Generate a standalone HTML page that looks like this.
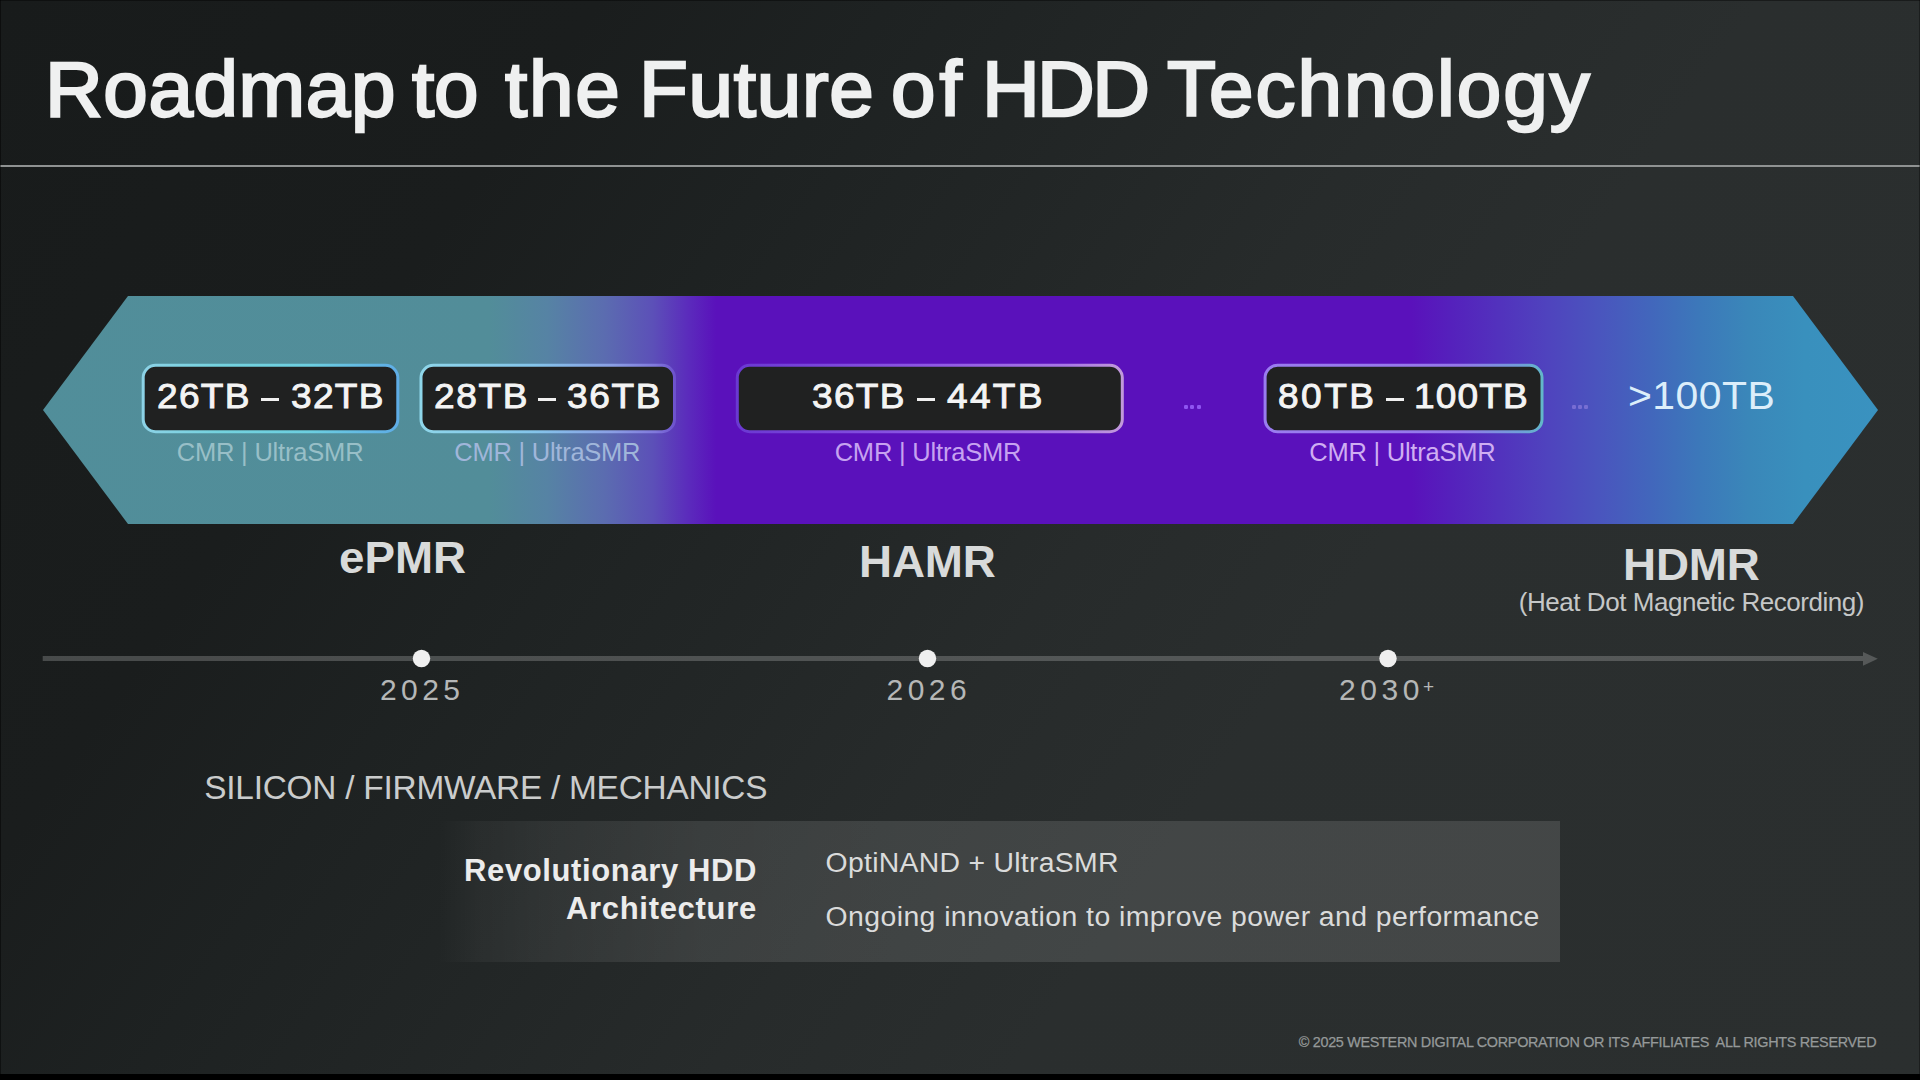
<!DOCTYPE html>
<html>
<head>
<meta charset="utf-8">
<title>Roadmap to the Future of HDD Technology</title>
<style>
  html, body { margin: 0; padding: 0; }
  body {
    width: 1920px; height: 1080px; overflow: hidden; position: relative;
    font-family: "Liberation Sans", sans-serif;
    background: linear-gradient(125deg, #181b1b 0px, #1a1d1d 491px, #1e2222 730px, #222626 951px, #272b2b 1197px, #2a2e2e 1443px, #2b2f2f 2192px);
    color: #efefef;
  }
  .t { position: absolute; white-space: nowrap; line-height: 1; margin: 0; }
  #title { position:absolute; left:0; top:0; }
  .tw { top: 49.6px; font-size: 78px; color: #eff0f0; -webkit-text-stroke: 2.4px #eff0f0; transform: scaleX(1.025); transform-origin: 0 0; }
  #rule { position: absolute; left: 0; top: 165px; width: 1920px; height: 2px; background: #8f9292; }
  #bottombar { position: absolute; left: 0; top: 1074px; width: 1920px; height: 6px; background: #000; }
  #band { position: absolute; left: 0; top: 0; }
  .bt { top: 378px; font-size: 35px; color: #f4f4f4; -webkit-text-stroke: 0.9px #f4f4f4; transform: scaleX(1.06); transform-origin: 0 0; }
  .dash { position:absolute; top:397.8px; height:3.5px; background:#f0f0f0; }
  .dots { position:absolute; height:4px; width:20px; }
  .dots i { position:absolute; top:0; width:4px; height:4px; border-radius:1.2px; background:#9d66ff; }
  .dots i:nth-child(1){left:0} .dots i:nth-child(2){left:6.2px} .dots i:nth-child(3){left:12.4px}
  .sub { font-size: 25.5px; top: 440.4px; }
  .lab { font-size: 44px; font-weight: bold; color: #d8dada; transform: scaleX(1.04); transform-origin: 0 0; }
  .yr { font-size: 30px; color: #b5b7b7; }
</style>
</head>
<body>

<div id="title"><span class="t tw" id="tw0" style="left:44.59px;letter-spacing:0.6px;">Roadmap</span><span class="t tw" id="tw1" style="left:411.96px;letter-spacing:-0.12px;">to</span><span class="t tw" id="tw2" style="left:504.96px;letter-spacing:1.75px;">the</span><span class="t tw" id="tw3" style="left:638.57px;letter-spacing:0.73px;">Future</span><span class="t tw" id="tw4" style="left:891px;letter-spacing:4px;">of</span><span class="t tw" id="tw5" style="left:982.41px;letter-spacing:-2.57px;">HDD</span><span class="t tw" id="tw6" style="left:1167.17px;letter-spacing:1.99px;">Technology</span></div>
<div id="rule"></div>

<svg id="band" width="1920" height="1080" viewBox="0 0 1920 1080">
  <defs>
    <linearGradient id="g" gradientUnits="userSpaceOnUse" x1="0" y1="0" x2="1920" y2="0">
      <stop offset="0" stop-color="#518e9a"/>
      <stop offset="0.255" stop-color="#528d99"/>
      <stop offset="0.285" stop-color="#5683a4"/>
      <stop offset="0.315" stop-color="#5b6cb0"/>
      <stop offset="0.34" stop-color="#5c50b8"/>
      <stop offset="0.358" stop-color="#5b2cbc"/>
      <stop offset="0.373" stop-color="#5a11bb"/>
      <stop offset="0.735" stop-color="#5a11bb"/>
      <stop offset="0.755" stop-color="#5520bc"/>
      <stop offset="0.781" stop-color="#5232bd"/>
      <stop offset="0.807" stop-color="#4f44be"/>
      <stop offset="0.833" stop-color="#4a55be"/>
      <stop offset="0.859" stop-color="#4266bc"/>
      <stop offset="0.885" stop-color="#3c78ba"/>
      <stop offset="0.911" stop-color="#3a87b9"/>
      <stop offset="0.94" stop-color="#3990bd"/>
      <stop offset="1" stop-color="#3a93c1"/>
    </linearGradient>
    <linearGradient id="b1g" gradientUnits="userSpaceOnUse" x1="141.7" y1="0" x2="399.3" y2="0"><stop offset="0" stop-color="#8cd2e6"/><stop offset="0.3" stop-color="#74d2de"/><stop offset="0.65" stop-color="#6ccfe0"/><stop offset="1" stop-color="#5eace6"/></linearGradient>
    <linearGradient id="b2g" gradientUnits="userSpaceOnUse" x1="419.5" y1="0" x2="676.0" y2="0"><stop offset="0" stop-color="#8ed6ea"/><stop offset="0.45" stop-color="#84c4ea"/><stop offset="0.75" stop-color="#8a9fe4"/><stop offset="0.92" stop-color="#8078dc"/><stop offset="1" stop-color="#6c50cc"/></linearGradient>
    <linearGradient id="b3g" gradientUnits="userSpaceOnUse" x1="735.8" y1="0" x2="1123.8" y2="0"><stop offset="0" stop-color="#6a38d2"/><stop offset="0.5" stop-color="#8e58e4"/><stop offset="0.85" stop-color="#a878e6"/><stop offset="1" stop-color="#c29ada"/></linearGradient>
    <linearGradient id="b4g" gradientUnits="userSpaceOnUse" x1="1263.6" y1="0" x2="1543.5" y2="0"><stop offset="0" stop-color="#9a7cf0"/><stop offset="0.7" stop-color="#9478ea"/><stop offset="0.92" stop-color="#6f9fd8"/><stop offset="1" stop-color="#62b8c8"/></linearGradient>
  </defs>
  <polygon points="43,410 128,296 1793,296 1878,410 1793,524 128,524" fill="url(#g)"/>
  <rect x="143.20" y="365.30" width="254.60" height="66.40" rx="12.5" fill="#202121" stroke="url(#b1g)" stroke-width="3.0"/>
  <rect x="421.00" y="365.30" width="253.50" height="66.40" rx="12.5" fill="#202121" stroke="url(#b2g)" stroke-width="3.0"/>
  <rect x="737.30" y="365.30" width="385.00" height="66.40" rx="12.5" fill="#202121" stroke="url(#b3g)" stroke-width="3.0"/>
  <rect x="1265.10" y="365.30" width="276.90" height="66.40" rx="12.5" fill="#202121" stroke="url(#b4g)" stroke-width="3.0"/>
  <!-- timeline -->
  <rect x="42.7" y="656" width="1820.3" height="5" fill="#fff" fill-opacity="0.205"/>
  <polygon points="1863,652 1877.8,658.8 1863,665.8" fill="#fff" fill-opacity="0.205"/>
  <circle cx="421.5" cy="658.5" r="8.7" fill="#efefef"/>
  <circle cx="927.5" cy="658.5" r="8.7" fill="#efefef"/>
  <circle cx="1388" cy="658.5" r="8.7" fill="#efefef"/>
</svg>


<div class="dots" style="left:1184.2px;top:404.9px;opacity:.8;"><i></i><i></i><i></i></div>
<div class="dots" style="left:1572px;top:404.6px;opacity:.42;"><i style="background:#b49af0"></i><i style="background:#b49af0"></i><i style="background:#b49af0"></i></div>
<div class="t bt" id="bt1a" style="left:156.76px;letter-spacing:1.18px;">26TB</div><div class="dash" style="left:261.2px;width:18.1px;"></div><div class="t bt" id="bt1b" style="left:290.91px;letter-spacing:1.19px;">32TB</div>
<div class="t bt" id="bt2a" style="left:433.76px;letter-spacing:1.48px;">28TB</div><div class="dash" style="left:537.9px;width:18.1px;"></div><div class="t bt" id="bt2b" style="left:567.34px;letter-spacing:1.52px;">36TB</div>
<div class="t bt" id="bt3a" style="left:812.09px;letter-spacing:1.18px;">36TB</div><div class="dash" style="left:917.0px;width:18.4px;"></div><div class="t bt" id="bt3b" style="left:947.37px;letter-spacing:2.15px;">44TB</div>
<div class="t bt" id="bt4a" style="left:1278.15px;letter-spacing:2.3px;">80TB</div><div class="dash" style="left:1385.5px;width:18.1px;"></div><div class="t bt" id="bt4b" style="left:1413.83px;letter-spacing:1.03px;">100TB</div>
<div class="t" id="bt5" style="left:1627.55px;letter-spacing:0.42px;top:376px;font-size:39px;color:#dceefa;transform:scaleX(1.05);transform-origin:0 0;">&gt;100TB</div>

<div class="t sub" id="s1" style="left:176.67px;letter-spacing:-0.19px;color:#98bfc7;">CMR | UltraSMR</div>
<div class="t sub" id="s2" style="left:454.29px;letter-spacing:-0.24px;color:#a0b6da;">CMR | UltraSMR</div>
<div class="t sub" id="s3" style="left:834.67px;letter-spacing:-0.2px;color:#c6a2f0;">CMR | UltraSMR</div>
<div class="t sub" id="s4" style="left:1309.27px;letter-spacing:-0.23px;color:#cfaef2;">CMR | UltraSMR</div>

<div class="t lab" id="l1" style="left:339.05px;letter-spacing:-0.02px;top:535.5px;">ePMR</div>
<div class="t lab" id="l2" style="left:859.31px;letter-spacing:-0.12px;top:540.2px;">HAMR</div>
<div class="t lab" id="l3" style="left:1623.11px;letter-spacing:-0.13px;top:542.5px;">HDMR</div>
<div class="t" id="l4" style="left:1518.72px;letter-spacing:-0.45px;top:588.7px;font-size:26px;color:#c5c7c7;">(Heat Dot Magnetic Recording)</div>

<div class="t yr" id="y1" style="left:380.05px;letter-spacing:4.38px;top:675px;">2025</div>
<div class="t yr" id="y2" style="left:886.43px;letter-spacing:4.54px;top:675px;">2026</div>
<div class="t yr" id="y3" style="left:1338.89px;letter-spacing:4.62px;top:675px;">2030</div>
<div class="t" id="y3p" style="left:1423.02px;letter-spacing:0px;top:677px;font-size:19px;color:#b5b7b7;">+</div>

<div class="t" id="sfm" style="left:204.3px;letter-spacing:-0.24px;top:770.9px;font-size:33.4px;color:#cacccc;">SILICON / FIRMWARE / MECHANICS</div>

<div id="gbox" style="position:absolute;left:430px;top:821px;width:1130px;height:141px;background:linear-gradient(90deg, rgba(255,255,255,0) 8px, rgba(255,255,255,0.04) 50px, rgba(255,255,255,0.067) 120px, rgba(255,255,255,0.10) 270px, rgba(255,255,255,0.115) 470px, rgba(255,255,255,0.118) 1130px);"></div>
<div class="t" id="r1" style="left:464.06px;letter-spacing:0.62px;top:855px;font-size:31px;font-weight:bold;color:#ececec;">Revolutionary HDD</div>
<div class="t" id="r2" style="left:565.95px;letter-spacing:0.69px;top:893.2px;font-size:31px;font-weight:bold;color:#ececec;">Architecture</div>
<div class="t" id="o1" style="left:825.56px;letter-spacing:0.28px;top:848px;font-size:28.4px;color:#dadbdb;">OptiNAND + UltraSMR</div>
<div class="t" id="o2" style="left:825.56px;letter-spacing:0.42px;top:902.4px;font-size:28.4px;color:#dadbdb;">Ongoing innovation to improve power and performance</div>

<div class="t" id="copy" style="left:1298.73px;letter-spacing:-0.3px;top:1034.6px;font-size:14.4px;color:#959999;-webkit-text-stroke:0.25px #959999;">© 2025 WESTERN DIGITAL CORPORATION OR ITS AFFILIATES&nbsp; ALL RIGHTS RESERVED</div>

<div id="bottombar"></div>
<div style="position:absolute;left:0;top:0;width:1920px;height:1px;background:rgba(0,0,0,.4);"></div>
<div style="position:absolute;left:0;top:0;width:1px;height:1080px;background:rgba(0,0,0,.45);"></div>
<div style="position:absolute;left:1919px;top:0;width:1px;height:1080px;background:rgba(0,0,0,.35);"></div>
</body>
</html>
